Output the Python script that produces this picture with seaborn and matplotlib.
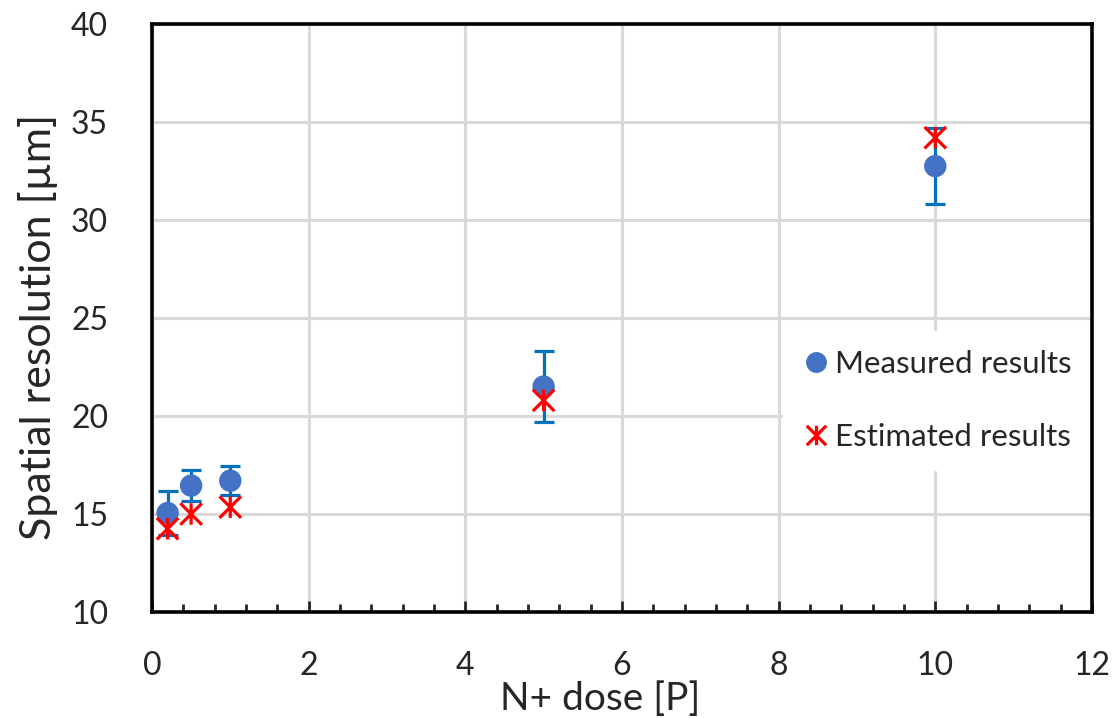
import numpy as np
import pandas as pd
import matplotlib.pyplot as plt
from matplotlib.path import Path
from matplotlib.lines import Line2D
from matplotlib.ticker import MultipleLocator
import seaborn as sns

# Data
dose = [0.2, 0.5, 1.0, 5.0, 10.0]
measured = [15.05, 16.45, 16.7, 21.5, 32.75]
measured_err = [1.1, 0.8, 0.75, 1.8, 1.92]
estimated = [14.25, 15.0, 15.35, 20.8, 34.2]

df = pd.DataFrame({'dose': dose, 'measured': measured,
                   'err': measured_err, 'estimated': estimated})

sns.set_style('white')
plt.rcParams['font.family'] = ['Lato', 'DejaVu Sans']

# Excel-like star marker: an X with a vertical bar
star = Path([(-1, -1), (1, 1), (-1, 1), (1, -1), (0, -1), (0, 1)],
            [Path.MOVETO, Path.LINETO, Path.MOVETO, Path.LINETO, Path.MOVETO, Path.LINETO])

fig = plt.figure(figsize=(11.14, 7.18), dpi=100)
ax = fig.add_axes([0.1364, 0.1476, 0.8438, 0.819])

ax.errorbar(df['dose'], df['measured'], yerr=df['err'], fmt='none',
            ecolor='#0070C0', elinewidth=2.3, capsize=7, capthick=2.3, zorder=3)
sns.scatterplot(data=df, x='dose', y='measured', ax=ax, color='#4472C4',
                s=260, edgecolor='none', zorder=4, legend=False)
sns.scatterplot(data=df, x='dose', y='estimated', ax=ax, marker=star,
                facecolor='none', edgecolor='#FF0000', color='#FF0000',
                linewidth=2.3, s=240, zorder=5, legend=False)

ax.set_xlim(0, 12)
ax.set_ylim(10, 40)
ax.xaxis.set_major_locator(MultipleLocator(2))
ax.xaxis.set_minor_locator(MultipleLocator(0.4))
ax.yaxis.set_major_locator(MultipleLocator(5))
ax.grid(True, which='major', color='#D9D9D9', linewidth=2.2)
ax.set_axisbelow(True)

for s in ax.spines.values():
    s.set_color('black')
    s.set_linewidth(2.6)
    s.set_zorder(3)

ax.tick_params(axis='x', which='both', direction='in', bottom=True, top=False,
               width=2, labelsize=23, pad=28)
ax.tick_params(axis='x', which='major', length=8)
ax.tick_params(axis='x', which='minor', length=6)
ax.tick_params(axis='y', which='both', left=False, labelsize=23, pad=28)

ax.set_xlabel('N+ dose [P]', fontsize=28)
ax.set_ylabel('Spatial resolution [µm]', fontsize=31)
ax.xaxis.set_label_coords(0.477, -0.118)
ax.yaxis.set_label_coords(-0.1, 0.485)

handles = [
    Line2D([], [], marker='o', linestyle='none', color='#4472C4', markersize=14),
    Line2D([], [], marker=star, linestyle='none', markerfacecolor='none',
           markeredgecolor='#FF0000', markeredgewidth=2.3, markersize=14),
]
leg = ax.legend(handles, ['Measured results', 'Estimated results'],
                loc='center left', bbox_to_anchor=(0.655, 0.36), fontsize=22.5,
                frameon=True, framealpha=1, edgecolor='white', facecolor='white',
                labelspacing=1.45, handletextpad=0.15, handlelength=0.9,
                borderpad=0.6, fancybox=False)
leg.set_zorder(2)

fig.savefig('out.png', dpi=100)
